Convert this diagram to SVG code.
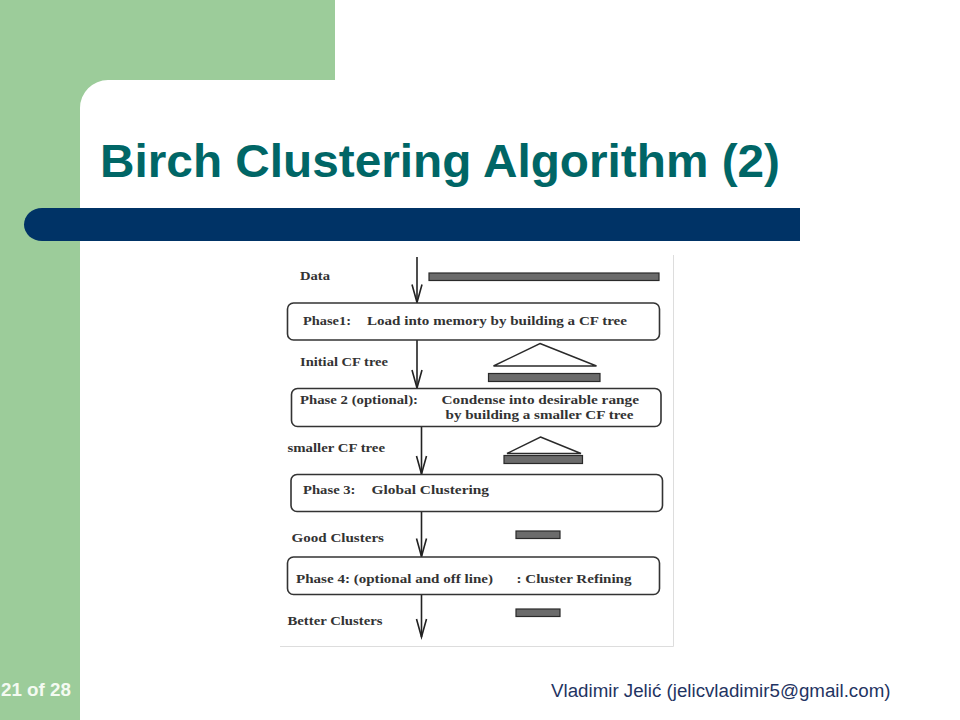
<svg xmlns="http://www.w3.org/2000/svg" width="960" height="720" viewBox="0 0 960 720">
  <defs>
    <marker id="vhead" markerUnits="userSpaceOnUse" viewBox="-20 -7 22 14" markerWidth="22" markerHeight="14" refX="0" refY="0" orient="auto" overflow="visible">
      <path d="M-18,-5 L0,0 L-18,5" fill="none" stroke="#222" stroke-width="1.6" stroke-linejoin="miter"/>
    </marker>
  </defs>
  <style>
    .box { fill: #ffffff; stroke: #333333; stroke-width: 1.6; }
    .bar { fill: #6b6b6b; stroke: #2a2a2a; stroke-width: 1.2; }
    .tri { fill: none; stroke: #2a2a2a; stroke-width: 1.4; }
    .lbl { font-family: "Liberation Serif", "Times New Roman", serif; font-weight: bold; font-size: 13.5px; fill: #333333; }
    .conn { stroke: #222222; stroke-width: 1.6; fill: none; }
  </style>

  <!-- slide background -->
  <rect x="0" y="0" width="960" height="720" fill="#ffffff"/>
  <rect x="0" y="0" width="335" height="80" fill="#9ccc9a"/>
  <rect x="0" y="0" width="80" height="720" fill="#9ccc9a"/>
  <path d="M80,80 H108 A28,28 0 0 0 80,108 Z" fill="#9ccc9a"/>
  <path d="M800,208 H42 A18,16.5 0 0 0 42,241 H800 Z" fill="#003366"/>

  <text x="100" y="177" font-family="Liberation Sans, Arial, sans-serif" font-weight="bold" font-size="47" fill="#006666" textLength="680" lengthAdjust="spacingAndGlyphs">Birch Clustering Algorithm (2)</text>

  <!-- embedded picture frame -->
  <path d="M673.5,255 V646.5 H280" fill="none" stroke="#dddddd" stroke-width="1"/>

  <!-- connectors -->
  <g id="connectors">
    <line class="conn" x1="417" y1="257" x2="417" y2="302.5" marker-end="url(#vhead)"/>
    <line class="conn" x1="417" y1="340" x2="417" y2="388" marker-end="url(#vhead)"/>
    <line class="conn" x1="421.5" y1="427" x2="421.5" y2="474" marker-end="url(#vhead)"/>
    <line class="conn" x1="421.5" y1="512" x2="421.5" y2="556.5" marker-end="url(#vhead)"/>
    <line class="conn" x1="421.5" y1="594.5" x2="421.5" y2="637" marker-end="url(#vhead)"/>
  </g>

  <!-- data labels and glyphs -->
  <g id="data">
    <text class="lbl" x="300" y="280" textLength="30" lengthAdjust="spacingAndGlyphs">Data</text>
    <rect class="bar" x="429" y="273" width="230" height="7.5"/>
  </g>

  <g id="phase1">
    <rect class="box" x="287.5" y="303" width="372" height="37" rx="6" ry="6"/>
    <text class="lbl" x="303" y="325" textLength="48" lengthAdjust="spacingAndGlyphs">Phase1:</text>
    <text class="lbl" x="367" y="325" textLength="260" lengthAdjust="spacingAndGlyphs">Load into memory by building a CF tree</text>
  </g>

  <g id="initial-cf-tree">
    <text class="lbl" x="300" y="366" textLength="88" lengthAdjust="spacingAndGlyphs">Initial CF tree</text>
    <polygon class="tri" points="540,343.5 596.5,366 493.5,366"/>
    <rect class="bar" x="488.5" y="373.5" width="111.5" height="8"/>
  </g>

  <g id="phase2">
    <rect class="box" x="291.5" y="388.5" width="369.5" height="38" rx="6" ry="6"/>
    <text class="lbl" x="300" y="403.5" textLength="118" lengthAdjust="spacingAndGlyphs">Phase 2 (optional):</text>
    <text class="lbl" x="441.5" y="403.5" textLength="197.5" lengthAdjust="spacingAndGlyphs">Condense into desirable range</text>
    <text class="lbl" x="445.5" y="418.5" textLength="188" lengthAdjust="spacingAndGlyphs">by building a smaller CF tree</text>
  </g>

  <g id="smaller-cf-tree">
    <text class="lbl" x="287.5" y="452" textLength="97.5" lengthAdjust="spacingAndGlyphs">smaller CF tree</text>
    <polygon class="tri" points="540.5,437 581,453.5 507,453.5"/>
    <rect class="bar" x="504" y="455.5" width="78.5" height="8"/>
  </g>

  <g id="phase3">
    <rect class="box" x="291" y="474.5" width="371.5" height="37" rx="6" ry="6"/>
    <text class="lbl" x="303" y="493.5" textLength="52.5" lengthAdjust="spacingAndGlyphs">Phase 3:</text>
    <text class="lbl" x="371.5" y="493.5" textLength="117.5" lengthAdjust="spacingAndGlyphs">Global Clustering</text>
  </g>

  <g id="good-clusters">
    <text class="lbl" x="291.5" y="542" textLength="92.5" lengthAdjust="spacingAndGlyphs">Good Clusters</text>
    <rect class="bar" x="516" y="531" width="44" height="7.5"/>
  </g>

  <g id="phase4">
    <rect class="box" x="287.5" y="557" width="372" height="37.5" rx="6" ry="6"/>
    <text class="lbl" x="296" y="583" textLength="197" lengthAdjust="spacingAndGlyphs">Phase 4: (optional and off line)</text>
    <text class="lbl" x="516.5" y="583" textLength="115" lengthAdjust="spacingAndGlyphs">: Cluster Refining</text>
  </g>

  <g id="better-clusters">
    <text class="lbl" x="287.5" y="624.5" textLength="95" lengthAdjust="spacingAndGlyphs">Better Clusters</text>
    <rect class="bar" x="516" y="609" width="44" height="7.5"/>
  </g>

  <!-- footer -->
  <text x="1" y="696" font-family="Liberation Sans, Arial, sans-serif" font-weight="bold" font-size="18" fill="#f4faf2" textLength="70" lengthAdjust="spacingAndGlyphs">21 of 28</text>
  <text x="551" y="696.5" font-family="Liberation Sans, Arial, sans-serif" font-size="18" fill="#1f3462" textLength="339.5" lengthAdjust="spacingAndGlyphs">Vladimir Jelić (jelicvladimir5@gmail.com)</text>
</svg>
